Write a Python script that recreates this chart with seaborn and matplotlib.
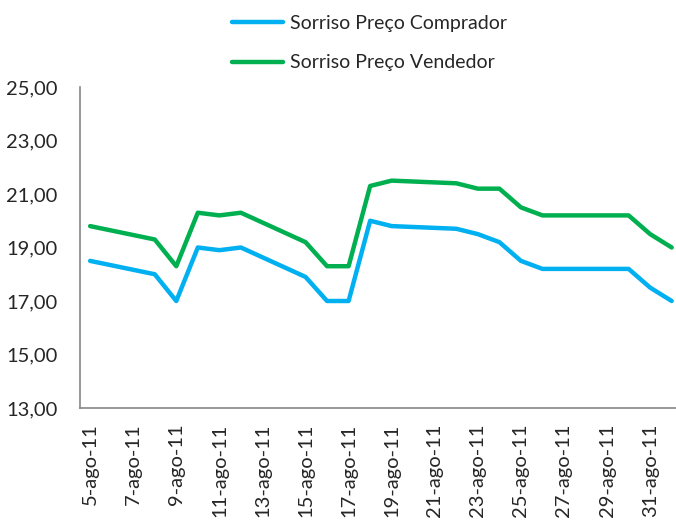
import pandas as pd
import numpy as np
import matplotlib
matplotlib.use('Agg')
import matplotlib.pyplot as plt
import seaborn as sns

# dados (dias úteis, ago/2011 - 1/set/2011)
datas = ['2011-08-05', '2011-08-08', '2011-08-09', '2011-08-10', '2011-08-11', '2011-08-12',
         '2011-08-15', '2011-08-16', '2011-08-17', '2011-08-18', '2011-08-19',
         '2011-08-22', '2011-08-23', '2011-08-24', '2011-08-25', '2011-08-26',
         '2011-08-29', '2011-08-30', '2011-08-31', '2011-09-01']
comprador = [18.5, 18.0, 17.0, 19.0, 18.9, 19.0,
             17.9, 17.0, 17.0, 20.0, 19.8,
             19.7, 19.5, 19.2, 18.5, 18.2,
             18.2, 18.2, 17.5, 17.0]
vendedor = [19.8, 19.3, 18.3, 20.3, 20.2, 20.3,
            19.2, 18.3, 18.3, 21.3, 21.5,
            21.4, 21.2, 21.2, 20.5, 20.2,
            20.2, 20.2, 19.5, 19.0]
series = ['Sorriso Preço Comprador', 'Sorriso Preço Vendedor']
cores = ['#00B0F0', '#00B050']
tick_dias = list(range(5, 32, 2))
tick_labels = [f'{d}-ago-11' for d in tick_dias]
y_ticks = [13, 15, 17, 19, 21, 23, 25]

sns.set_style('white')
plt.rcParams['font.family'] = ['Lato', 'DejaVu Sans']

inicio = pd.Timestamp('2011-08-05')
dias = [(pd.Timestamp(d) - inicio).days for d in datas]
df = pd.DataFrame({
    'dia': dias * 2,
    'valor': comprador + vendedor,
    'serie': [series[0]] * len(dias) + [series[1]] * len(dias),
})

fig = plt.figure(figsize=(6.76, 5.2), dpi=100)
ax = fig.add_axes([80 / 676, 1 - 408 / 520, 596 / 676, (408 - 87) / 520])

sns.lineplot(data=df, x='dia', y='valor', hue='serie', palette=dict(zip(series, cores)),
             linewidth=3.2, ax=ax, legend=False)

ax.set_xlim(-0.47, 27.2)
ax.set_ylim(13, 25)
ax.set_xticks([d - 5 for d in tick_dias])
ax.set_xticklabels(tick_labels, rotation=90, fontsize=14.5)
ax.set_yticks(y_ticks)
ax.set_yticklabels([f'{v:.2f}'.replace('.', ',') for v in y_ticks], fontsize=14.5)
ax.tick_params(axis='x', length=0, pad=11)
ax.tick_params(axis='y', length=0, pad=16)
ax.set_xlabel('')
ax.set_ylabel('')
for s in ['top', 'right']:
    ax.spines[s].set_visible(False)
for s in ['left', 'bottom']:
    ax.spines[s].set_color('#868686')
    ax.spines[s].set_linewidth(1.2)

# legenda em duas linhas acima do gráfico
handles = [plt.Line2D([], [], color=c, linewidth=3.2) for c in cores]
fig.legend(handles, series, loc='upper left', bbox_to_anchor=(232 / 676, 1 - 15 / 520),
           frameon=False, fontsize=14, handlelength=2.6, handletextpad=0.4,
           labelspacing=1.15, borderpad=0, borderaxespad=0)

fig.savefig('out.png', dpi=100)
